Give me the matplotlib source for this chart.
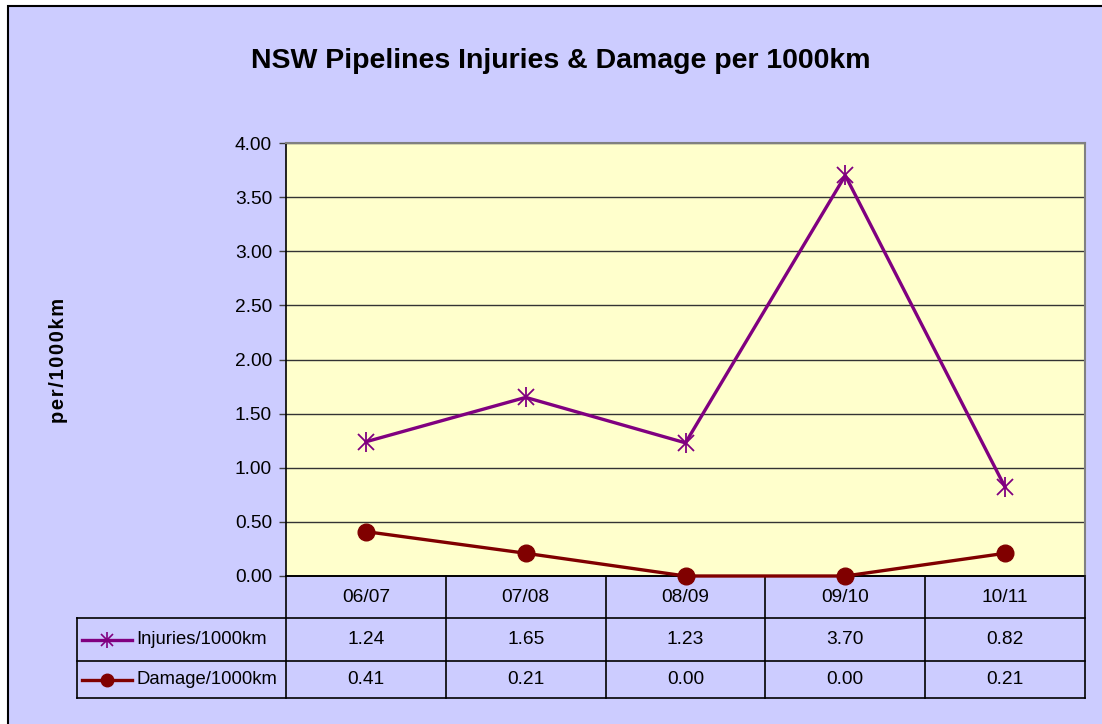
import matplotlib.pyplot as plt
from matplotlib.patches import Rectangle
from matplotlib.lines import Line2D
import matplotlib.transforms as mtransforms

plt.rcParams['font.family'] = ['Liberation Sans', 'DejaVu Sans']

# Данные графика
seasons = ['06/07', '07/08', '08/09', '09/10', '10/11']
injuries = [1.24, 1.65, 1.23, 3.70, 0.82]
damage = [0.41, 0.21, 0.00, 0.00, 0.21]
series_names = ['Injuries/1000km', 'Damage/1000km']
y_ticks = [0.0, 0.5, 1.0, 1.5, 2.0, 2.5, 3.0, 3.5, 4.0]

W, H = 1102, 724
purple = '#800080'
maroon = '#800000'
lavender = '#CCCCFF'
yellow = '#FFFFCC'
fs = 13.8

fig = plt.figure(figsize=(W / 100, H / 100), dpi=100, facecolor='white')

# Фон области диаграммы
fig.patches.append(Rectangle((8 / W, -0.01), 1.02, 1 - 6 / H + 0.01, transform=fig.transFigure,
                             facecolor=lavender, edgecolor='black', linewidth=1.5, zorder=-5))

ax = fig.add_axes([286 / W, 1 - 576 / H, 799 / W, 433 / H])
ax.set_facecolor(yellow)

x = [i + 0.5 for i in range(len(seasons))]
ax.plot(x, injuries, color=purple, linewidth=2.4, zorder=3)
ax.plot(x, injuries, linestyle='none', marker='x', markersize=12, markeredgewidth=1.3,
        color=purple, zorder=4)
ax.plot(x, injuries, linestyle='none', marker='|', markersize=14, markeredgewidth=1.3,
        color=purple, zorder=4)
ax.plot(x, damage, color=maroon, linewidth=2.4, marker='o', markersize=12, zorder=3,
        clip_on=False)

ax.set_xlim(0, len(seasons))
ax.set_ylim(0, 4)
ax.set_yticks(y_ticks)
ax.set_yticklabels([f'{v:.2f}' for v in y_ticks], fontsize=fs)
ax.set_xticks([])
ax.tick_params(axis='y', direction='out', length=5, width=1, pad=5, color='#404040')
ax.grid(axis='y', color='#333333', linewidth=1)
ax.set_axisbelow(True)
for side in ['top', 'right']:
    ax.spines[side].set_color('#808080')
    ax.spines[side].set_linewidth(1.5)
ax.spines['left'].set_color('black')
ax.spines['bottom'].set_color('black')
ax.spines['left'].set_linewidth(1.2)
ax.spines['bottom'].set_linewidth(1.2)

fig.text(561 / W, 1 - 61 / H, 'NSW Pipelines Injuries & Damage per 1000km', ha='center',
         va='center', fontsize=20.5, fontweight='bold')
fig.text(58 / W, 1 - 360 / H, '\u200a'.join('per/1000km'), rotation=90, ha='center',
         va='center', fontsize=14.5, fontweight='bold')

# Таблица данных под графиком
tr = mtransforms.blended_transform_factory(ax.transData, ax.transAxes)
ah = 433.0
rows_y = [0, -42 / ah, -85 / ah, -122 / ah]
leg_x = -(286 - 77) / 160
n = len(seasons)
lk = dict(transform=tr, color='black', linewidth=1.2, clip_on=False)
for y in rows_y[1:]:
    ax.add_line(Line2D([leg_x, n], [y, y], **lk))
ax.add_line(Line2D([0, n], [rows_y[0]] * 2, **lk))
for i in range(n + 1):
    ax.add_line(Line2D([i, i], [rows_y[0], rows_y[3]], **lk))
ax.add_line(Line2D([leg_x, leg_x], [rows_y[1], rows_y[3]], **lk))

for i, s in enumerate(seasons):
    ax.text(i + 0.5, (rows_y[0] + rows_y[1]) / 2, s, transform=tr, ha='center', va='center',
            fontsize=fs)
    ax.text(i + 0.5, (rows_y[1] + rows_y[2]) / 2, f'{injuries[i]:.2f}', transform=tr,
            ha='center', va='center', fontsize=fs)
    ax.text(i + 0.5, (rows_y[2] + rows_y[3]) / 2, f'{damage[i]:.2f}', transform=tr,
            ha='center', va='center', fontsize=fs)

# Легенда в таблице
lx0 = leg_x + 5 / 160
lx1 = leg_x + 55 / 160
lxm = (lx0 + lx1) / 2
for r, (name, col) in enumerate(zip(series_names, [purple, maroon])):
    yc = (rows_y[r + 1] + rows_y[r + 2]) / 2
    ax.add_line(Line2D([lx0, lx1], [yc, yc], transform=tr, color=col, linewidth=2.4,
                       clip_on=False))
    if r == 0:
        ax.add_line(Line2D([lxm], [yc], transform=tr, color=col, marker='x', markersize=9,
                           markeredgewidth=1.2, clip_on=False))
        ax.add_line(Line2D([lxm], [yc], transform=tr, color=col, marker='|', markersize=11,
                           markeredgewidth=1.2, clip_on=False))
    else:
        ax.add_line(Line2D([lxm], [yc], transform=tr, color=col, marker='o', markersize=9,
                           clip_on=False))
    ax.text(leg_x + 59 / 160, yc, name, transform=tr, ha='left', va='center', fontsize=13.3)

fig.savefig('out.png', dpi=100, facecolor='white')
